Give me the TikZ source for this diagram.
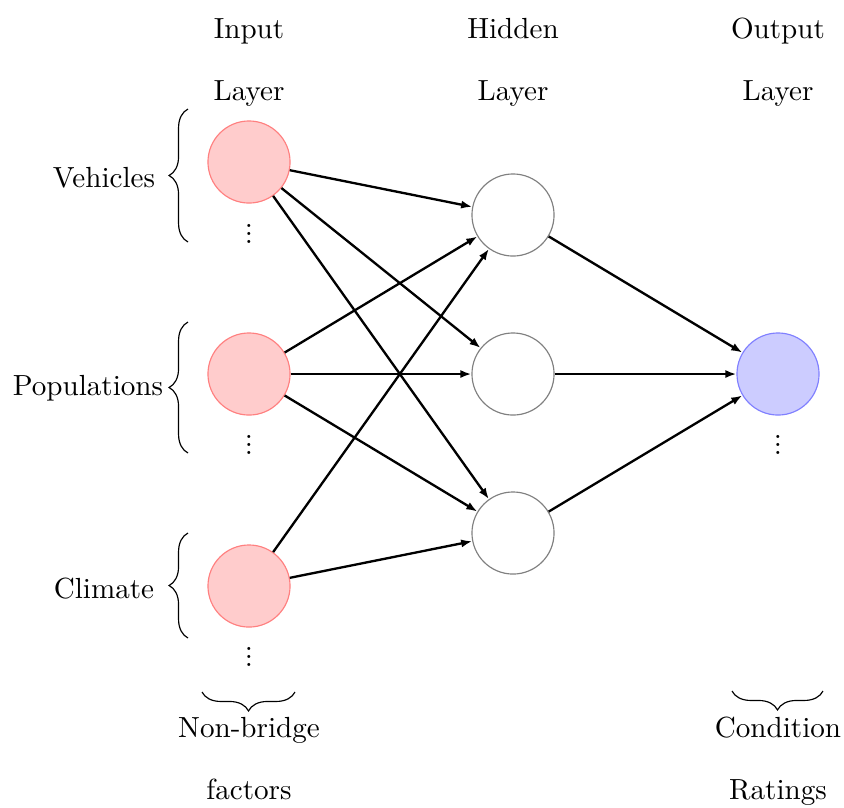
\documentclass[tikz,border=0pt]{standalone}
\usetikzlibrary{arrows.meta,decorations.pathreplacing}
% three closely stacked dots marking further units of a layer
\newcommand\tightvdots{\vbox{\baselineskip=2.6pt\lineskiplimit=-100pt\hbox{.}\hbox{.}\hbox{.}}}
\begin{document}
\begin{tikzpicture}[x=0.3436pt, y=-0.3436pt,
  neuron/.style={circle, minimum size=28.2pt, inner sep=0pt, line width=0.4pt},
  input neuron/.style={neuron, draw=red!50, fill=red!20},
  hidden neuron/.style={neuron, draw=black!50, fill=white},
  output neuron/.style={neuron, draw=blue!50, fill=blue!20},
  link/.style={-{Latex[length=3.8pt,width=2.8pt]}, line width=0.8pt},
  group brace/.style={decorate, decoration={brace, amplitude=6.5pt}, line width=0.4pt},
  label/.style={anchor=base, inner sep=0pt},
  more/.style={inner sep=0pt}
]
\useasboundingbox (0,0) rectangle (844,807);

% layer headings
\node[label] (inTop)  at (249,38)  {Input};
\node[label] (inBot)  at (249,100) {Layer};
\node[label] (hidTop) at (513,38)  {Hidden};
\node[label] (hidBot) at (513,100) {Layer};
\node[label] (outTop) at (778,38)  {Output};
\node[label] (outBot) at (778,100) {Layer};

% neurons
\node[input neuron]  (I1) at (249,162) {};
\node[input neuron]  (I2) at (249,374) {};
\node[input neuron]  (I3) at (249,586) {};
\node[hidden neuron] (H1) at (513,215) {};
\node[hidden neuron] (H2) at (513,374) {};
\node[hidden neuron] (H3) at (513,533) {};
\node[output neuron] (O)  at (778,374) {};

% continuation dots
\node[more] (d1) at (249,234) {\tightvdots};
\node[more] (d2) at (249,445) {\tightvdots};
\node[more] (d3) at (249,657) {\tightvdots};
\node[more] (d4) at (778,445) {\tightvdots};

% connections
\foreach \h in {H1,H2,H3} {
  \draw[link] (I1) -- (\h);
  \draw[link] (I2) -- (\h);
}
\draw[link] (I3) -- (H1);
\draw[link] (I3) -- (H3);
\foreach \h in {H1,H2,H3}
  \draw[link] (\h) -- (O);

% input group braces and names
\coordinate (b1s) at (188,242); \coordinate (b1e) at (188,109);
\coordinate (b2s) at (188,453); \coordinate (b2e) at (188,322);
\coordinate (b3s) at (188,638); \coordinate (b3e) at (188,533);
\draw[group brace] (b1s) -- (b1e);
\draw[group brace] (b2s) -- (b2e);
\draw[group brace] (b3s) -- (b3e);
\node[label] (vehicles)    at (104,187) {Vehicles};
\node[label] (populations) at (88,395)  {Populations};
\node[label] (climate)     at (104,598) {Climate};

% bottom braces and captions
\coordinate (b4s) at (295,692); \coordinate (b4e) at (202,692);
\coordinate (b5s) at (823,691); \coordinate (b5e) at (732,691);
\draw[group brace] (b4s) -- (b4e);
\draw[group brace] (b5s) -- (b5e);
\node[label] (nbTop)   at (249,737) {Non-bridge};
\node[label] (nbBot)   at (249,799) {factors};
\node[label] (condTop) at (778,737) {Condition};
\node[label] (condBot) at (778,799) {Ratings};
\end{tikzpicture}
\end{document}
